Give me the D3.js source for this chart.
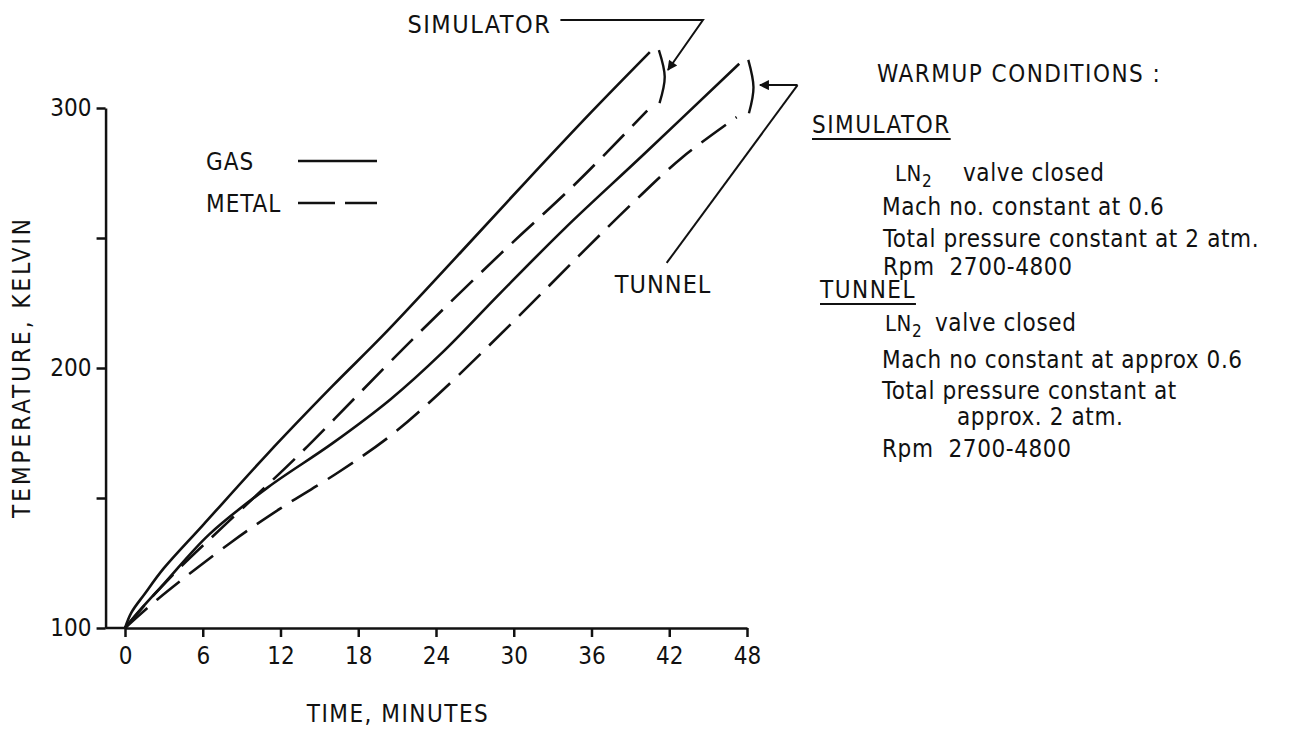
<!DOCTYPE html>
<html lang="en">
<head>
<meta charset="UTF-8">
<title>Warmup</title>
<script src="https://d3js.org/d3.v7.min.js"></script>
<style>
  body { margin: 0; background: #fff; }
  text { font-family: "DejaVu Sans Condensed", "Liberation Sans Narrow", sans-serif; fill: #111; }
</style>
</head>
<body>
<script>
// time (minutes), temperature (kelvin)
var simGas      = [[0,100],[0.5,106],[1.5,113],[3,123],[6,139.5],[11,167],[16,193],[20,213],[26,245],[31,272],[36,298.5],[40.5,321.5]];
var simMetal    = [[0,100],[1.2,107],[4,122],[8,141],[13.5,167],[20,200],[23,215],[29,244],[35,272],[40.3,299]];
var tunnelGas   = [[0,100],[1,106],[3,117],[6.5,136],[11,154],[16,171],[20.5,188],[24.5,206],[29,229],[34,254],[40,282],[47.4,317]];
var tunnelMetal = [[0,100],[2.5,111],[8.2,133],[12,146],[16.5,160],[20.5,174],[24.2,190],[30,218],[35,243],[39.5,265],[43,281],[47.2,296.5]];

var xTicks = [0, 6, 12, 18, 24, 30, 36, 42, 48];
var yTicks = [100, 150, 200, 250, 300];
var yLabels = [100, 200, 300];

var width = 1294, height = 747;
var svg = d3.select("body").append("svg").attr("width", width).attr("height", height);

var x = d3.scaleLinear().domain([0, 48]).range([125, 747]);
var y = d3.scaleLinear().domain([100, 300]).range([628, 108]);

// axes
var gx = svg.append("g").attr("transform", "translate(0," + y(100) + ")")
  .call(d3.axisBottom(x).tickValues(xTicks).tickSize(9).tickPadding(10).tickSizeOuter(0));
var gy = svg.append("g").attr("transform", "translate(" + x(-1.5) + ",0)")
  .call(d3.axisLeft(y).tickValues(yTicks).tickSize(9).tickPadding(5).tickSizeOuter(0)
    .tickFormat(function(d) { return yLabels.indexOf(d) >= 0 ? d : ""; }));
svg.append("line").attr("x1", x(-1.5)).attr("x2", x(0)).attr("y1", y(100)).attr("y2", y(100))
  .attr("stroke", "#111").attr("stroke-width", 2.5);

[gx, gy].forEach(function(g) {
  g.selectAll("path, line").attr("stroke", "#111").attr("stroke-width", 2.5);
  g.selectAll("text").style("font-size", "24px").attr("fill", "#111");
});

svg.append("text").attr("x", 398).attr("y", 722).attr("text-anchor", "middle")
  .style("font-size", "24px").style("letter-spacing", "1.5px").text("TIME, MINUTES");
svg.append("text").attr("transform", "translate(30," + 367 + ") rotate(-90)").attr("text-anchor", "middle")
  .style("font-size", "24px").style("letter-spacing", "3px").text("TEMPERATURE, KELVIN");

// curves
var line = d3.line().x(function(d) { return x(d[0]); }).y(function(d) { return y(d[1]); })
  .curve(d3.curveCatmullRom.alpha(0.5));
[[simGas, null], [tunnelGas, null], [simMetal, "30,12"], [tunnelMetal, "30,12"]].forEach(function(s) {
  svg.append("path").datum(s[0]).attr("d", line)
    .attr("fill", "none").attr("stroke", "#111").attr("stroke-width", 2.6)
    .attr("stroke-dasharray", s[1]);
});

// legend
svg.append("text").attr("x", 206).attr("y", 170).style("font-size", "24px").style("letter-spacing", "1px").text("GAS");
svg.append("text").attr("x", 206).attr("y", 212).style("font-size", "24px").style("letter-spacing", "1px").text("METAL");
svg.append("line").attr("x1", 298).attr("x2", 377).attr("y1", 161).attr("y2", 161).attr("stroke", "#111").attr("stroke-width", 2.5);
svg.append("line").attr("x1", 298).attr("x2", 377).attr("y1", 203).attr("y2", 203).attr("stroke", "#111").attr("stroke-width", 2.5)
  .attr("stroke-dasharray", "37,10");

// annotations: brackets and arrows (in data units)
var bracket = d3.line().x(function(d) { return x(d[0]); }).y(function(d) { return y(d[1]); }).curve(d3.curveNatural);
svg.append("path").datum([[41.2, 322.3], [41.65, 312], [41.25, 301.9]]).attr("d", bracket)
  .attr("fill", "none").attr("stroke", "#111").attr("stroke-width", 2.4);
svg.append("path").datum([[48.1, 318.5], [48.5, 308], [48.15, 298]]).attr("d", bracket)
  .attr("fill", "none").attr("stroke", "#111").attr("stroke-width", 2.4);

svg.append("defs").append("marker").attr("id", "arr").attr("viewBox", "0 0 10 10")
  .attr("refX", 9).attr("refY", 5).attr("markerWidth", 7).attr("markerHeight", 5)
  .attr("markerUnits", "strokeWidth").attr("orient", "auto")
  .append("path").attr("d", "M0,0 L10,5 L0,10 z").attr("fill", "#111");

var straight = d3.line().x(function(d) { return x(d[0]); }).y(function(d) { return y(d[1]); });
svg.append("path").datum([[33.6, 333.8], [44.6, 333.8], [41.9, 314.6]]).attr("d", straight)
  .attr("fill", "none").attr("stroke", "#111").attr("stroke-width", 2).attr("marker-end", "url(#arr)");
svg.append("path").datum([[51.9, 308.8], [49.0, 308.8]]).attr("d", straight)
  .attr("fill", "none").attr("stroke", "#111").attr("stroke-width", 2).attr("marker-end", "url(#arr)");
svg.append("path").datum([[51.9, 308.8], [41.8, 240.4]]).attr("d", straight)
  .attr("fill", "none").attr("stroke", "#111").attr("stroke-width", 2);

svg.append("text").attr("x", x(32.9)).attr("y", y(329)).attr("text-anchor", "end")
  .style("font-size", "25px").style("letter-spacing", "1.5px").text("SIMULATOR");
svg.append("text").attr("x", x(37.8)).attr("y", y(229))
  .style("font-size", "25px").style("letter-spacing", "1px").text("TUNNEL");

// warmup conditions text block
var notes = [
  { t: "WARMUP CONDITIONS :", x: 877, y: 82, ls: 1.5 },
  { t: "SIMULATOR", x: 812, y: 133, ls: 1.5, u: true },
  { t: "LN", sub: "2", rest: "valve closed", x: 895, y: 181, rx: 963 },
  { t: "Mach no. constant at 0.6", x: 882, y: 215 },
  { t: "Total pressure constant at 2 atm.", x: 883, y: 247 },
  { t: "Rpm  2700-4800", x: 883, y: 275 },
  { t: "TUNNEL", x: 820, y: 298, ls: 1.5, u: true },
  { t: "LN", sub: "2", rest: "valve closed", x: 885, y: 331, rx: 935 },
  { t: "Mach no constant at approx 0.6", x: 882, y: 368 },
  { t: "Total pressure constant at", x: 882, y: 399 },
  { t: "approx. 2 atm.", x: 957, y: 425 },
  { t: "Rpm  2700-4800", x: 882, y: 457 }
];
notes.forEach(function(n) {
  var tx = svg.append("text").attr("x", n.x).attr("y", n.y)
    .style("font-size", (n.sub ? 22 : 24) + "px").style("letter-spacing", (n.ls || 0.6) + "px")
    .style("white-space", "pre").text(n.t);
  if (n.sub) {
    tx.append("tspan").attr("dy", 6).style("font-size", "17px").text(n.sub);
    svg.append("text").attr("x", n.rx).attr("y", n.y).style("font-size", "24px")
      .style("letter-spacing", "0.6px").text(n.rest);
  }
  if (n.u) {
    var w = tx.node().getComputedTextLength();
    svg.append("line").attr("x1", n.x).attr("x2", n.x + w).attr("y1", n.y + 6).attr("y2", n.y + 6)
      .attr("stroke", "#111").attr("stroke-width", 2);
  }
});
</script>
</body>
</html>
